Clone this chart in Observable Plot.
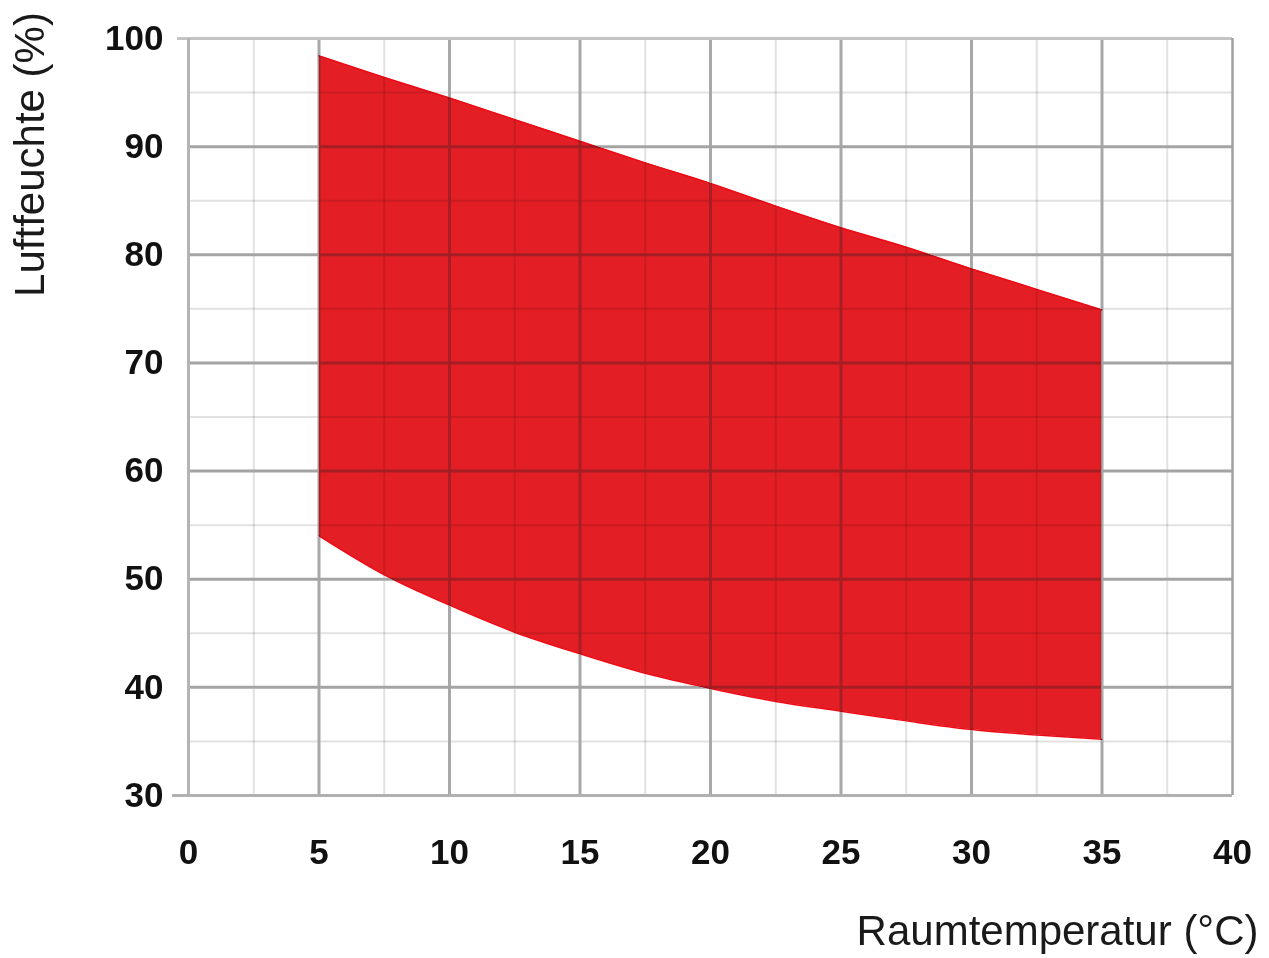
<!DOCTYPE html>
<html>
<head>
<meta charset="utf-8">
<script src="https://cdn.jsdelivr.net/npm/d3@7"></script>
<script src="https://cdn.jsdelivr.net/npm/@observablehq/plot@0.6"></script>
<style>
  html, body { margin: 0; padding: 0; background: #fff; }
  #chart { width: 1269px; height: 958px; }
</style>
</head>
<body>
<div id="chart"></div>
<script>
// Raumtemperatur (°C)
const temps = [5, 7.5, 10, 12.5, 15, 17.5, 20, 22.5, 25, 27.5, 30, 32.5, 35];
// Luftfeuchte (%) – obere Grenze
const upper = [98.4, 96.4, 94.5, 92.5, 90.5, 88.5, 86.6, 84.5, 82.5, 80.7, 78.7, 76.8, 74.9];
// Luftfeuchte (%) – untere Grenze
const lower = [54.0, 50.4, 47.6, 45.1, 43.1, 41.3, 39.9, 38.7, 37.8, 36.9, 36.1, 35.6, 35.2];

const xTicks = [0, 5, 10, 15, 20, 25, 30, 35, 40];
const yTicks = [30, 40, 50, 60, 70, 80, 90, 100];
const xMinor = [2.5, 7.5, 12.5, 17.5, 22.5, 27.5, 32.5, 37.5];
const yMinor = [35, 45, 55, 65, 75, 85, 95];

const xTitle = "Raumtemperatur (°C)";
const yTitle = "Luftfeuchte (%)";

const rows = temps.map((t, i) => ({t, hi: upper[i], lo: lower[i]}));

const font = "'Liberation Sans', Arial, sans-serif";

const chart = Plot.plot({
  width: 1269,
  height: 958,
  marginLeft: 188,
  marginRight: 37,
  marginTop: 38,
  marginBottom: 163,
  style: {fontFamily: font, background: "#fff", color: "#111", overflow: "visible"},
  x: {domain: [0, 40]},
  y: {domain: [30, 100]},
  marks: [
    Plot.areaY(rows, {x: "t", y1: "lo", y2: "hi", fill: "#e31e24", curve: "monotone-x"}),
    Plot.lineY(rows, {x: "t", y: "hi", stroke: "#ee0a14", strokeWidth: 1.5, curve: "monotone-x"}),
    Plot.lineY(rows, {x: "t", y: "lo", stroke: "#ee0a14", strokeWidth: 1.5, curve: "monotone-x"}),
    Plot.ruleX(xMinor, {stroke: "#e2e2e2", strokeWidth: 2, mixBlendMode: "multiply"}),
    Plot.ruleY(yMinor, {stroke: "#e2e2e2", strokeWidth: 2, mixBlendMode: "multiply"}),
    Plot.ruleX(xTicks.filter(d => d > 0 && d < 40), {stroke: "#a8a8a8", strokeWidth: 3, mixBlendMode: "darken"}),
    Plot.ruleY(yTicks.filter(d => d > 30 && d < 100), {stroke: "#a4a4a4", strokeWidth: 3, mixBlendMode: "darken"}),
    Plot.ruleY([100], {stroke: "#c4c4c4", strokeWidth: 3, x1: 0, x2: 40, insetLeft: -11}),
    Plot.ruleX([40], {stroke: "#a0a0a0", strokeWidth: 2.5}),
    Plot.ruleX([0], {stroke: "#b4b4b4", strokeWidth: 3}),
    Plot.ruleY([30], {stroke: "#b0b0b0", strokeWidth: 3, insetLeft: -16}),
    Plot.axisX(xTicks, {
      tickSize: 0, tickPadding: 44, fontSize: 35, fontWeight: "bold", label: null,
      tickFormat: d => String(d), fill: "#111"
    }),
    Plot.axisY(yTicks, {
      tickSize: 0, tickPadding: 25, fontSize: 35, fontWeight: "bold", label: null,
      tickFormat: d => String(d), fill: "#111"
    }),
    Plot.text([xTitle], {
      frameAnchor: "bottom-right", text: d => d, textAnchor: "end", lineAnchor: "middle",
      dx: 26, dy: 136, fontSize: 42, fill: "#1a1a1a"
    }),
    Plot.text([yTitle], {
      frameAnchor: "top-left", text: d => d, textAnchor: "middle", lineAnchor: "middle",
      rotate: -90, dx: -158, dy: 116, fontSize: 42, fill: "#1a1a1a"
    })
  ]
});

document.getElementById("chart").appendChild(chart);
</script>
</body>
</html>
